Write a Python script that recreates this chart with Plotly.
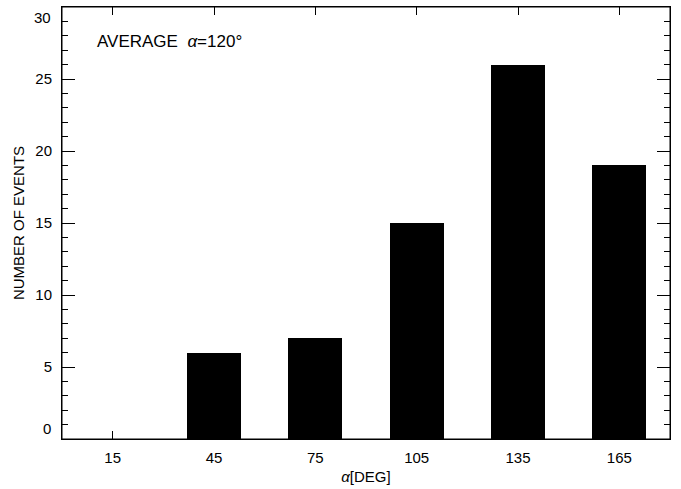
import plotly.graph_objects as go

angles = [15, 45, 75, 105, 135, 165]
events = [0, 6, 7, 15, 26, 19]
x_ticks = [15, 45, 75, 105, 135, 165]
y_ticks = [0, 5, 10, 15, 20, 25, 30]

font = "Liberation Sans, Arial, sans-serif"
tick_size = 15

fig = go.Figure()
fig.add_trace(go.Bar(x=angles, y=events, width=16, marker=dict(color="black", line=dict(width=0))))

fig.update_layout(
    width=681, height=489,
    margin=dict(l=62, r=11, t=7, b=50, autoexpand=False),
    paper_bgcolor="white", plot_bgcolor="white",
    showlegend=False,
    font=dict(family=font, color="black", size=tick_size),
    bargap=0,
)
fig.update_xaxes(
    range=[0, 180], tickvals=x_ticks, ticktext=[str(v) for v in x_ticks],
    ticks="inside", ticklen=8, tickwidth=1, tickcolor="black",
    showline=True, linecolor="black", linewidth=1, mirror="allticks",
    showgrid=False, zeroline=False, automargin=False,
    ticklabelstandoff=5,
    title=dict(text="<i>α</i>[DEG]", standoff=6, font=dict(size=tick_size)),
    tickfont=dict(size=tick_size),
)
# inner tick labels on the axis; end labels are placed inside the frame like the original
inner_text = ["" if (v == y_ticks[0] or v == y_ticks[-1]) else str(v) for v in y_ticks]
fig.update_yaxes(
    range=[y_ticks[0], y_ticks[-1]], tickvals=y_ticks, ticktext=inner_text,
    ticks="inside", ticklen=13, tickwidth=1, tickcolor="black",
    minor=dict(dtick=1, ticks="inside", ticklen=6, tickcolor="black", tickwidth=1, showgrid=False),
    showline=True, linecolor="black", linewidth=1, mirror="allticks",
    showgrid=False, zeroline=False, automargin=False,
    ticklabelstandoff=6,
    title=dict(text="NUMBER OF EVENTS", standoff=7, font=dict(size=tick_size)),
    tickfont=dict(size=tick_size),
)
for v, anchor in [(y_ticks[0], "bottom"), (y_ticks[-1], "top")]:
    fig.add_annotation(x=0, xref="paper", y=v, yref="y", xanchor="right", yanchor=anchor,
                       xshift=-9, text=str(v), showarrow=False,
                       font=dict(size=tick_size, color="black"))
fig.add_shape(type="rect", xref="paper", yref="paper", x0=0, y0=0, x1=1, y1=1,
              line=dict(color="black", width=1), layer="above")
fig.add_annotation(
    x=0.054, y=0.919, xref="paper", yref="paper", xanchor="left", yanchor="middle",
    text="AVERAGE  <i>α</i>=120°", showarrow=False, font=dict(size=17, color="black"),
)
fig.write_html("out.html", config={"displayModeBar": False},
               post_script="document.body.style.margin='0';document.body.style.overflow='hidden';")
